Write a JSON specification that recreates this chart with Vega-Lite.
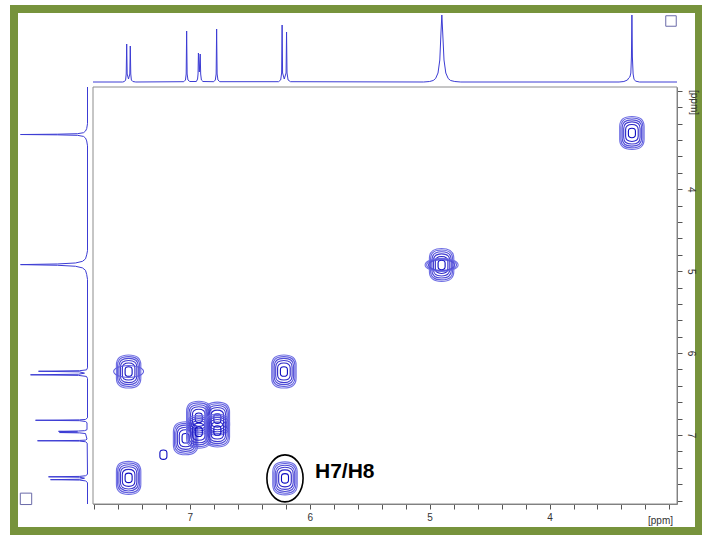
{
  "$schema": "https://vega.github.io/schema/vega-lite/v6.json",
  "width": 685,
  "height": 522,
  "autosize": {"type": "none"},
  "padding": {"left": 14, "top": 9, "right": 3, "bottom": 4},
  "background": "white",
  "config": {"view": {"stroke": "#77933c", "strokeWidth": 8, "fill": "white"}},
  "resolve": {"scale": {"x": "independent", "y": "independent", "size": "independent", "stroke": "independent", "shape": "independent"}},
  "datasets": {
    "top": [
      {"ppm": 7.807, "I": 0}, {"ppm": 7.56, "I": 0}, {"ppm": 7.545, "I": 0.5}, {"ppm": 7.535, "I": 2}, {"ppm": 7.53, "I": 8}, {"ppm": 7.526, "I": 38}, {"ppm": 7.522, "I": 8}, {"ppm": 7.511, "I": 3}, {"ppm": 7.5, "I": 8}, {"ppm": 7.496, "I": 36}, {"ppm": 7.492, "I": 8}, {"ppm": 7.487, "I": 2}, {"ppm": 7.475, "I": 0.5}, {"ppm": 7.45, "I": 0},
      {"ppm": 7.05, "I": 0.3}, {"ppm": 7.036, "I": 2}, {"ppm": 7.03, "I": 8}, {"ppm": 7.026, "I": 51}, {"ppm": 7.022, "I": 8}, {"ppm": 7.015, "I": 2}, {"ppm": 7.0, "I": 0.5},
      {"ppm": 6.945, "I": 0.5}, {"ppm": 6.935, "I": 3}, {"ppm": 6.931, "I": 8}, {"ppm": 6.928, "I": 29}, {"ppm": 6.9205, "I": 10}, {"ppm": 6.913, "I": 28}, {"ppm": 6.909, "I": 8}, {"ppm": 6.903, "I": 2}, {"ppm": 6.89, "I": 0.5},
      {"ppm": 6.8, "I": 0.3}, {"ppm": 6.787, "I": 2}, {"ppm": 6.78, "I": 8}, {"ppm": 6.776, "I": 53}, {"ppm": 6.772, "I": 8}, {"ppm": 6.765, "I": 2}, {"ppm": 6.75, "I": 0.3},
      {"ppm": 6.26, "I": 0.3}, {"ppm": 6.242, "I": 2}, {"ppm": 6.234, "I": 9}, {"ppm": 6.23, "I": 57}, {"ppm": 6.226, "I": 9}, {"ppm": 6.212, "I": 3}, {"ppm": 6.197, "I": 9}, {"ppm": 6.193, "I": 50}, {"ppm": 6.189, "I": 9}, {"ppm": 6.18, "I": 2}, {"ppm": 6.16, "I": 0.3},
      {"ppm": 5.05, "I": 0}, {"ppm": 5.0, "I": 0.5}, {"ppm": 4.97, "I": 1.5}, {"ppm": 4.95, "I": 3.5}, {"ppm": 4.93, "I": 9}, {"ppm": 4.915, "I": 22}, {"ppm": 4.905, "I": 50}, {"ppm": 4.898, "I": 67}, {"ppm": 4.891, "I": 50}, {"ppm": 4.88, "I": 22}, {"ppm": 4.865, "I": 9}, {"ppm": 4.845, "I": 3.5}, {"ppm": 4.825, "I": 1.5}, {"ppm": 4.79, "I": 0.5}, {"ppm": 4.74, "I": 0},
      {"ppm": 3.42, "I": 0}, {"ppm": 3.38, "I": 0.5}, {"ppm": 3.35, "I": 2}, {"ppm": 3.34, "I": 4}, {"ppm": 3.33, "I": 5}, {"ppm": 3.322, "I": 9}, {"ppm": 3.317, "I": 25}, {"ppm": 3.313, "I": 67}, {"ppm": 3.309, "I": 25}, {"ppm": 3.303, "I": 8}, {"ppm": 3.295, "I": 2.5}, {"ppm": 3.28, "I": 0.8}, {"ppm": 3.25, "I": 0},
      {"ppm": 2.937, "I": 0}
    ],
    "left": [
      {"ppm": 2.752, "I": 0}, {"ppm": 3.2, "I": 0}, {"ppm": 3.26, "I": 0.8}, {"ppm": 3.29, "I": 2}, {"ppm": 3.31, "I": 4}, {"ppm": 3.322, "I": 10}, {"ppm": 3.328, "I": 30}, {"ppm": 3.332, "I": 67}, {"ppm": 3.336, "I": 30}, {"ppm": 3.342, "I": 10}, {"ppm": 3.355, "I": 4}, {"ppm": 3.375, "I": 2}, {"ppm": 3.41, "I": 0.8}, {"ppm": 3.47, "I": 0},
      {"ppm": 4.75, "I": 0}, {"ppm": 4.8, "I": 0.8}, {"ppm": 4.85, "I": 2}, {"ppm": 4.88, "I": 5}, {"ppm": 4.9, "I": 12}, {"ppm": 4.912, "I": 30}, {"ppm": 4.92, "I": 67}, {"ppm": 4.928, "I": 30}, {"ppm": 4.94, "I": 12}, {"ppm": 4.96, "I": 5}, {"ppm": 4.99, "I": 2}, {"ppm": 5.04, "I": 0.8}, {"ppm": 5.1, "I": 0},
      {"ppm": 6.18, "I": 0}, {"ppm": 6.205, "I": 1}, {"ppm": 6.215, "I": 8}, {"ppm": 6.222, "I": 49}, {"ppm": 6.229, "I": 8}, {"ppm": 6.245, "I": 3}, {"ppm": 6.258, "I": 9}, {"ppm": 6.265, "I": 57}, {"ppm": 6.272, "I": 9}, {"ppm": 6.285, "I": 1}, {"ppm": 6.31, "I": 0},
      {"ppm": 6.79, "I": 0}, {"ppm": 6.81, "I": 2}, {"ppm": 6.815, "I": 8}, {"ppm": 6.82, "I": 52}, {"ppm": 6.825, "I": 8}, {"ppm": 6.835, "I": 2}, {"ppm": 6.85, "I": 0.5},
      {"ppm": 6.935, "I": 0.5}, {"ppm": 6.947, "I": 3}, {"ppm": 6.951, "I": 9}, {"ppm": 6.955, "I": 29}, {"ppm": 6.9625, "I": 10}, {"ppm": 6.97, "I": 28}, {"ppm": 6.974, "I": 8}, {"ppm": 6.982, "I": 2},
      {"ppm": 7.05, "I": 0.5}, {"ppm": 7.062, "I": 2}, {"ppm": 7.066, "I": 8}, {"ppm": 7.07, "I": 50}, {"ppm": 7.074, "I": 8}, {"ppm": 7.082, "I": 2}, {"ppm": 7.1, "I": 0.3},
      {"ppm": 7.48, "I": 0}, {"ppm": 7.497, "I": 2}, {"ppm": 7.505, "I": 8}, {"ppm": 7.51, "I": 39}, {"ppm": 7.515, "I": 8}, {"ppm": 7.527, "I": 3}, {"ppm": 7.54, "I": 8}, {"ppm": 7.545, "I": 37}, {"ppm": 7.55, "I": 8}, {"ppm": 7.56, "I": 2}, {"ppm": 7.58, "I": 0},
      {"ppm": 7.842, "I": 0}
    ],
    "peaks": [
      {"x": 3.313, "y": 3.313, "lv": 1, "k": "t"}, {"x": 3.313, "y": 3.313, "lv": 2, "k": "t"}, {"x": 3.313, "y": 3.313, "lv": 3, "k": "t"}, {"x": 3.313, "y": 3.313, "lv": 4, "k": "t"}, {"x": 3.313, "y": 3.313, "lv": 5, "k": "t"}, {"x": 3.313, "y": 3.313, "lv": 6, "k": "t"},
      {"x": 4.9, "y": 4.924, "lv": 1, "k": "t"}, {"x": 4.9, "y": 4.924, "lv": 2, "k": "t"}, {"x": 4.9, "y": 4.924, "lv": 3, "k": "t"}, {"x": 4.9, "y": 4.924, "lv": 4, "k": "t"}, {"x": 4.9, "y": 4.924, "lv": 5, "k": "t"}, {"x": 4.9, "y": 4.924, "lv": 6, "k": "t"},
      {"x": 4.9, "y": 4.924, "lv": 1, "k": "w"}, {"x": 4.9, "y": 4.924, "lv": 2, "k": "w"}, {"x": 4.9, "y": 4.924, "lv": 3, "k": "w"},
      {"x": 6.215, "y": 6.225, "lv": 1, "k": "t"}, {"x": 6.215, "y": 6.225, "lv": 2, "k": "t"}, {"x": 6.215, "y": 6.225, "lv": 3, "k": "t"}, {"x": 6.215, "y": 6.225, "lv": 4, "k": "t"}, {"x": 6.215, "y": 6.225, "lv": 5, "k": "t"}, {"x": 6.215, "y": 6.225, "lv": 6, "k": "t"},
      {"x": 7.51, "y": 6.225, "lv": 1, "k": "t"}, {"x": 7.51, "y": 6.225, "lv": 2, "k": "t"}, {"x": 7.51, "y": 6.225, "lv": 3, "k": "t"}, {"x": 7.51, "y": 6.225, "lv": 4, "k": "t"}, {"x": 7.51, "y": 6.225, "lv": 5, "k": "t"}, {"x": 7.51, "y": 6.225, "lv": 6, "k": "t"},
      {"x": 7.51, "y": 6.225, "lv": 2, "k": "w"},
      {"x": 7.51, "y": 7.523, "lv": 1, "k": "t"}, {"x": 7.51, "y": 7.523, "lv": 2, "k": "t"}, {"x": 7.51, "y": 7.523, "lv": 3, "k": "t"}, {"x": 7.51, "y": 7.523, "lv": 4, "k": "t"}, {"x": 7.51, "y": 7.523, "lv": 5, "k": "t"}, {"x": 7.51, "y": 7.523, "lv": 6, "k": "t"},
      {"x": 6.206, "y": 7.529, "lv": 1, "k": "t"}, {"x": 6.206, "y": 7.529, "lv": 2, "k": "t"}, {"x": 6.206, "y": 7.529, "lv": 3, "k": "t"}, {"x": 6.206, "y": 7.529, "lv": 4, "k": "t"}, {"x": 6.206, "y": 7.529, "lv": 5, "k": "t"}, {"x": 6.206, "y": 7.529, "lv": 6, "k": "t"},
      {"x": 7.035, "y": 7.04, "lv": 1, "k": "t"}, {"x": 7.035, "y": 7.04, "lv": 2, "k": "t"}, {"x": 7.035, "y": 7.04, "lv": 3, "k": "t"}, {"x": 7.035, "y": 7.04, "lv": 4, "k": "t"}, {"x": 7.035, "y": 7.04, "lv": 5, "k": "t"}, {"x": 7.035, "y": 7.04, "lv": 6, "k": "t"},
      {"x": 6.925, "y": 6.79, "lv": 1, "k": "t"}, {"x": 6.925, "y": 6.79, "lv": 2, "k": "t"}, {"x": 6.925, "y": 6.79, "lv": 3, "k": "t"}, {"x": 6.925, "y": 6.79, "lv": 4, "k": "t"}, {"x": 6.925, "y": 6.79, "lv": 5, "k": "t"}, {"x": 6.925, "y": 6.79, "lv": 6, "k": "t"},
      {"x": 6.925, "y": 6.96, "lv": 1, "k": "t"}, {"x": 6.925, "y": 6.96, "lv": 2, "k": "t"}, {"x": 6.925, "y": 6.96, "lv": 3, "k": "t"}, {"x": 6.925, "y": 6.96, "lv": 4, "k": "t"}, {"x": 6.925, "y": 6.96, "lv": 5, "k": "t"}, {"x": 6.925, "y": 6.96, "lv": 6, "k": "t"},
      {"x": 6.77, "y": 6.8, "lv": 1, "k": "t"}, {"x": 6.77, "y": 6.8, "lv": 2, "k": "t"}, {"x": 6.77, "y": 6.8, "lv": 3, "k": "t"}, {"x": 6.77, "y": 6.8, "lv": 4, "k": "t"}, {"x": 6.77, "y": 6.8, "lv": 5, "k": "t"}, {"x": 6.77, "y": 6.8, "lv": 6, "k": "t"},
      {"x": 6.77, "y": 6.945, "lv": 1, "k": "t"}, {"x": 6.77, "y": 6.945, "lv": 2, "k": "t"}, {"x": 6.77, "y": 6.945, "lv": 3, "k": "t"}, {"x": 6.77, "y": 6.945, "lv": 4, "k": "t"}, {"x": 6.77, "y": 6.945, "lv": 5, "k": "t"}, {"x": 6.77, "y": 6.945, "lv": 6, "k": "t"},
      {"x": 7.22, "y": 7.24, "lv": 6, "k": "t"}
    ],
    "frame": [{"x1": 7.807, "x2": 2.937, "y1": 2.752, "y2": 7.842}],
    "iconTop": [{"ppm": 2.987, "I": 61}],
    "iconLeft": [{"ppm": 7.779, "I": 61.5}],
    "note": [{"x": 5.956, "y": 7.45, "label": "H7/H8"}],
    "ring": [{"x": 6.206, "y": 7.529}]
  },
  "layer": [
    {
      "data": {"name": "frame"},
      "mark": {"type": "rect", "filled": false, "color": "#8c8c8c", "strokeWidth": 1},
      "encoding": {
        "x": {"field": "x1", "type": "quantitative", "scale": {"domain": [7.807, 2.937], "range": [79, 663], "nice": false, "zero": false}, "axis": null},
        "x2": {"field": "x2"},
        "y": {"field": "y1", "type": "quantitative", "scale": {"domain": [2.752, 7.842], "range": [78, 495], "nice": false, "zero": false}, "axis": null},
        "y2": {"field": "y2"}
      }
    },
    {
      "data": {"name": "top"},
      "mark": {"type": "line", "color": "#3c3cd4", "strokeWidth": 1},
      "encoding": {
        "x": {"field": "ppm", "type": "quantitative", "scale": {"domain": [7.807, 2.937], "range": [79, 663], "nice": false, "zero": false}, "axis": null},
        "y": {"field": "I", "type": "quantitative", "scale": {"domain": [0, 73], "range": [73, 0], "nice": false, "zero": false}, "axis": null}
      }
    },
    {
      "data": {"name": "left"},
      "mark": {"type": "line", "color": "#3c3cd4", "strokeWidth": 1},
      "encoding": {
        "y": {"field": "ppm", "type": "quantitative", "scale": {"domain": [2.752, 7.842], "range": [78, 495], "nice": false, "zero": false}, "axis": null},
        "x": {"field": "I", "type": "quantitative", "scale": {"domain": [0, 73.5], "range": [73.5, 0], "nice": false, "zero": false}, "axis": null},
        "order": {"field": "ppm", "type": "quantitative"}
      }
    },
    {
      "data": {"name": "iconTop"},
      "mark": {"type": "point", "shape": "square", "filled": false, "color": "#6a6aa8", "strokeWidth": 1, "size": 110, "opacity": 1},
      "encoding": {
        "x": {"field": "ppm", "type": "quantitative", "scale": {"domain": [7.807, 2.937], "range": [79, 663], "nice": false, "zero": false}, "axis": null},
        "y": {"field": "I", "type": "quantitative", "scale": {"domain": [0, 73], "range": [73, 0], "nice": false, "zero": false}, "axis": null}
      }
    },
    {
      "data": {"name": "iconLeft"},
      "mark": {"type": "point", "shape": "square", "filled": false, "color": "#6a6aa8", "strokeWidth": 1, "size": 130, "opacity": 1},
      "encoding": {
        "y": {"field": "ppm", "type": "quantitative", "scale": {"domain": [2.752, 7.842], "range": [78, 495], "nice": false, "zero": false}, "axis": null},
        "x": {"field": "I", "type": "quantitative", "scale": {"domain": [0, 73.5], "range": [73.5, 0], "nice": false, "zero": false}, "axis": null}
      }
    },
    {
      "data": {"name": "peaks"},
      "mark": {"type": "point", "filled": false, "strokeWidth": 1.1, "opacity": 1},
      "encoding": {
        "x": {"field": "x", "type": "quantitative", "scale": {"domain": [7.807, 2.937], "range": [79, 663], "nice": false, "zero": false},
          "axis": {"orient": "bottom", "offset": -27, "grid": false, "values": [3, 3.2, 3.4, 3.6, 3.8, 4, 4.2, 4.4, 4.6, 4.8, 5, 5.2, 5.4, 5.6, 5.8, 6, 6.2, 6.4, 6.6, 6.8, 7, 7.2, 7.4, 7.6, 7.8],
            "labelExpr": "abs(datum.value - round(datum.value)) < 0.001 && datum.value > 3.5 ? format(datum.value, 'd') : ''",
            "labelFlush": false, "labelOverlap": false, "labelFont": "Liberation Sans", "labelFontSize": 10, "labelColor": "#333", "labelPadding": 3,
            "tickSize": 5, "tickColor": "#555", "domainColor": "#777",
            "title": "[ppm]", "titleFont": "Liberation Sans", "titleFontSize": 10, "titleFontWeight": "normal", "titleColor": "#333", "titleX": 646, "titleY": 16, "titleAlign": "center", "titleBaseline": "middle"}},
        "y": {"field": "y", "type": "quantitative", "scale": {"domain": [2.752, 7.842], "range": [78, 495], "nice": false, "zero": false},
          "axis": {"orient": "right", "offset": -22, "grid": false, "values": [2.8, 3, 3.2, 3.4, 3.6, 3.8, 4, 4.2, 4.4, 4.6, 4.8, 5, 5.2, 5.4, 5.6, 5.8, 6, 6.2, 6.4, 6.6, 6.8, 7, 7.2, 7.4, 7.6, 7.8],
            "labelExpr": "abs(datum.value - round(datum.value)) < 0.001 && datum.value > 3.5 ? format(datum.value, 'd') : ''",
            "labelFlush": false, "labelOverlap": false, "labelAngle": 90, "labelAlign": "center", "labelBaseline": "bottom", "labelFont": "Liberation Sans", "labelFontSize": 10, "labelColor": "#333", "labelPadding": 3,
            "tickSize": 5, "tickColor": "#555", "domainColor": "#777",
            "title": "[ppm]", "titleFont": "Liberation Sans", "titleFontSize": 10, "titleFontWeight": "normal", "titleColor": "#333", "titleAngle": 90, "titleX": 16, "titleY": 93, "titleAlign": "center", "titleBaseline": "middle"}},
        "size": {"field": "lv", "type": "quantitative", "scale": {"domain": [1, 6], "range": [1089, 90]}, "legend": null},
        "stroke": {"field": "lv", "type": "quantitative", "scale": {"domain": [1, 6], "range": ["#7070e4", "#0c0cc0"]}, "legend": null},
        "shape": {"field": "k", "type": "nominal", "scale": {"domain": ["t", "w"], "range": ["M0,-1C0.58,-1,0.74,-0.75,0.74,-0.4L0.74,0.4C0.74,0.75,0.58,1,0,1C-0.58,1,-0.74,0.75,-0.74,0.4L-0.74,-0.4C-0.74,-0.75,-0.58,-1,0,-1Z", "M-1,0A1,0.4,0,1,0,1,0A1,0.4,0,1,0,-1,0Z"]}, "legend": null}
      }
    },
    {
      "data": {"name": "ring"},
      "mark": {"type": "point", "filled": false, "color": "black", "strokeWidth": 1.6, "size": 2209, "opacity": 1, "shape": "M-0.77,0A0.77,1,0,1,0,0.77,0A0.77,1,0,1,0,-0.77,0Z"},
      "encoding": {
        "x": {"field": "x", "type": "quantitative", "scale": {"domain": [7.807, 2.937], "range": [79, 663], "nice": false, "zero": false}, "axis": null},
        "y": {"field": "y", "type": "quantitative", "scale": {"domain": [2.752, 7.842], "range": [78, 495], "nice": false, "zero": false}, "axis": null}
      }
    },
    {
      "data": {"name": "note"},
      "mark": {"type": "text", "align": "left", "baseline": "middle", "font": "Liberation Sans", "fontWeight": "bold", "fontSize": 21, "color": "black"},
      "encoding": {
        "x": {"field": "x", "type": "quantitative", "scale": {"domain": [7.807, 2.937], "range": [79, 663], "nice": false, "zero": false}, "axis": null},
        "y": {"field": "y", "type": "quantitative", "scale": {"domain": [2.752, 7.842], "range": [78, 495], "nice": false, "zero": false}, "axis": null},
        "text": {"field": "label"}
      }
    }
  ]
}
